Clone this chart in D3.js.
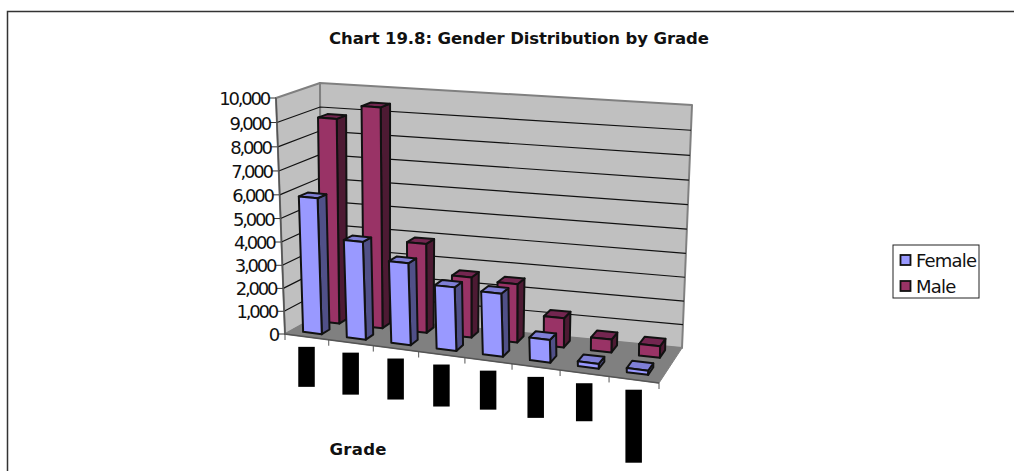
<!DOCTYPE html>
<html>
<head>
<meta charset="utf-8">
<script src="https://cdn.jsdelivr.net/npm/d3@7"></script>
<style>
  html, body { margin: 0; padding: 0; background: #fff; }
  svg { display: block; }
  text { font-family: "DejaVu Sans", "Liberation Sans", sans-serif; fill: #111; }
</style>
</head>
<body>
<svg id="chart" width="1014" height="471"></svg>
<script>
// values
var grades = ["g1", "g2", "g3", "g4", "g5", "g6", "g7", "g8"];
var female = [5850, 4200, 3500, 2700, 2650, 950, 200, 170];
var male = [8800, 9400, 3850, 2600, 2500, 1250, 550, 480];
var valueTicks = [0, 1000, 2000, 3000, 4000, 5000, 6000, 7000, 8000, 9000, 10000];
// the grade labels come out as solid black blocks, this is their length
var gradeLabelLength = [40, 42, 41, 42, 39, 41, 38, 73];

var svg = d3.select("#chart");

// corners of the 3d box, [front/back][left/right][floor/top]
var corners = {
  flb: [285, 334], flt: [276, 98],
  frb: [659, 383], frt: [650, 128],
  blb: [321, 314], blt: [320, 83],
  brb: [682, 348], brt: [692, 105]
};

// perspective squeeze along one axis
function warp(t, r) { return t * r / ((1 - t) + t * r); }

var xScale = d3.scaleBand().domain(grades).range([0, 1]);
var yScale = d3.scaleLinear().domain([0, 10000]).range([0, 1]);
var zScale = d3.scaleLinear().domain([0, 1]).range([0, 1]);

function lerp(a, b, t) { return [a[0] + (b[0] - a[0]) * t, a[1] + (b[1] - a[1]) * t]; }

// u along the grades, val in data units, z front to back
function project(u, val, z) {
  var tu = warp(u, 0.927);
  var tv = warp(yScale(val), 0.958);
  var tz = zScale(z);
  var frontB = lerp(corners.flb, corners.frb, tu);
  var frontT = lerp(corners.flt, corners.frt, tu);
  var backB = lerp(corners.blb, corners.brb, tu);
  var backT = lerp(corners.blt, corners.brt, tu);
  return lerp(lerp(frontB, frontT, tv), lerp(backB, backT, tv), tz);
}

function poly(pts, fill, stroke, sw) {
  return svg.append("polygon")
    .attr("points", pts.map(function(p) { return p.join(","); }).join(" "))
    .attr("fill", fill)
    .attr("stroke", stroke)
    .attr("stroke-width", sw)
    .attr("stroke-linejoin", "round");
}

// frame, only left and top are in the picture
svg.append("path").attr("d", "M7.5,471V11.5H1014").attr("fill", "none").attr("stroke", "#333").attr("stroke-width", 1.5);

// walls and floor
poly([project(0, 0, 0), project(0, 10000, 0), project(0, 10000, 1), project(0, 0, 1)], "#c0c0c0", "#808080", 2);
poly([project(0, 0, 1), project(0, 10000, 1), project(1, 10000, 1), project(1, 0, 1)], "#c0c0c0", "#808080", 2);
poly([project(0, 0, 0), project(1, 0, 0), project(1, 0, 1), project(0, 0, 1)], "#808080", "#808080", 1);

// gridlines go along the side wall then the back wall
valueTicks.forEach(function(v) {
  var a = project(0, v, 0), b = project(0, v, 1), c = project(1, v, 1);
  if (v > 0 && v < 10000) {
    svg.append("polyline")
      .attr("points", [a, b, c].map(function(p) { return p.join(","); }).join(" "))
      .attr("fill", "none").attr("stroke", "#111").attr("stroke-width", 1.2);
  }
  svg.append("line")
    .attr("x1", a[0] - 7).attr("x2", a[0]).attr("y1", a[1]).attr("y2", a[1])
    .attr("stroke", "#333").attr("stroke-width", 1);
  svg.append("text")
    .attr("x", a[0] - 7).attr("y", a[1] + 7)
    .attr("text-anchor", "end")
    .attr("font-size", 18)
    .attr("letter-spacing", -2.2)
    .text(d3.format(",")(v));
});

// axis edge lines on top of the walls
var axisL = [project(0, 10000, 0), project(0, 0, 0), project(1, 0, 0)];
svg.append("polyline")
  .attr("points", axisL.map(function(p) { return p.join(","); }).join(" "))
  .attr("fill", "none").attr("stroke", "#555").attr("stroke-width", 1.5);

// ticks under the front edge
d3.range(grades.length + 1).forEach(function(i) {
  var p = project(i / grades.length, 0, 0);
  svg.append("line")
    .attr("x1", p[0]).attr("x2", p[0]).attr("y1", p[1]).attr("y2", p[1] + 6)
    .attr("stroke", "#555").attr("stroke-width", 1);
});

// grade labels
grades.forEach(function(g, i) {
  var p = project(xScale(g) + xScale.bandwidth() / 2, 0, 0);
  svg.append("rect")
    .attr("x", p[0] - 8.5).attr("y", p[1] + 10)
    .attr("width", 16.5).attr("height", gradeLabelLength[i])
    .attr("fill", "#000");
});

// one box of the 3d column chart
function column(g, val, z0, z1, front, side, top) {
  var bw = xScale.bandwidth();
  var u0 = xScale(g) + bw * 0.27, u1 = xScale(g) + bw * 0.70;
  var sw = 2;
  poly([project(u1, 0, z0), project(u1, val, z0), project(u1, val, z1), project(u1, 0, z1)], side, "#111", sw);
  poly([project(u0, val, z0), project(u1, val, z0), project(u1, val, z1), project(u0, val, z1)], top, "#111", sw);
  poly([project(u0, 0, z0), project(u1, 0, z0), project(u1, val, z0), project(u0, val, z0)], front, "#111", sw);
}

grades.forEach(function(g, i) {
  column(g, male[i], 0.68, 0.90, "#993366", "#4d1a33", "#732650");
});
grades.forEach(function(g, i) {
  column(g, female[i], 0.18, 0.40, "#9999ff", "#505088", "#7f7fd6");
});

// title and axis title
svg.append("text")
  .attr("x", 519).attr("y", 44)
  .attr("text-anchor", "middle")
  .attr("font-size", 16.5).attr("font-weight", "bold")
  .attr("textLength", 380)
  .text("Chart 19.8: Gender Distribution by Grade");
svg.append("text")
  .attr("x", 358).attr("y", 455)
  .attr("text-anchor", "middle")
  .attr("font-size", 16.5).attr("font-weight", "bold")
  .attr("textLength", 57)
  .text("Grade");

// legend
svg.append("rect").attr("x", 893).attr("y", 245).attr("width", 86).attr("height", 53)
  .attr("fill", "#fff").attr("stroke", "#222").attr("stroke-width", 1);
[["Female", "#9999ff", 260], ["Male", "#993366", 286]].forEach(function(d) {
  svg.append("rect").attr("x", 900.5).attr("y", d[2] - 5).attr("width", 10).attr("height", 10)
    .attr("fill", d[1]).attr("stroke", "#111").attr("stroke-width", 1.8);
  svg.append("text").attr("x", 916).attr("y", d[2] + 7)
    .attr("font-size", 18).attr("letter-spacing", -0.8).text(d[0]);
});
</script>
</body>
</html>
